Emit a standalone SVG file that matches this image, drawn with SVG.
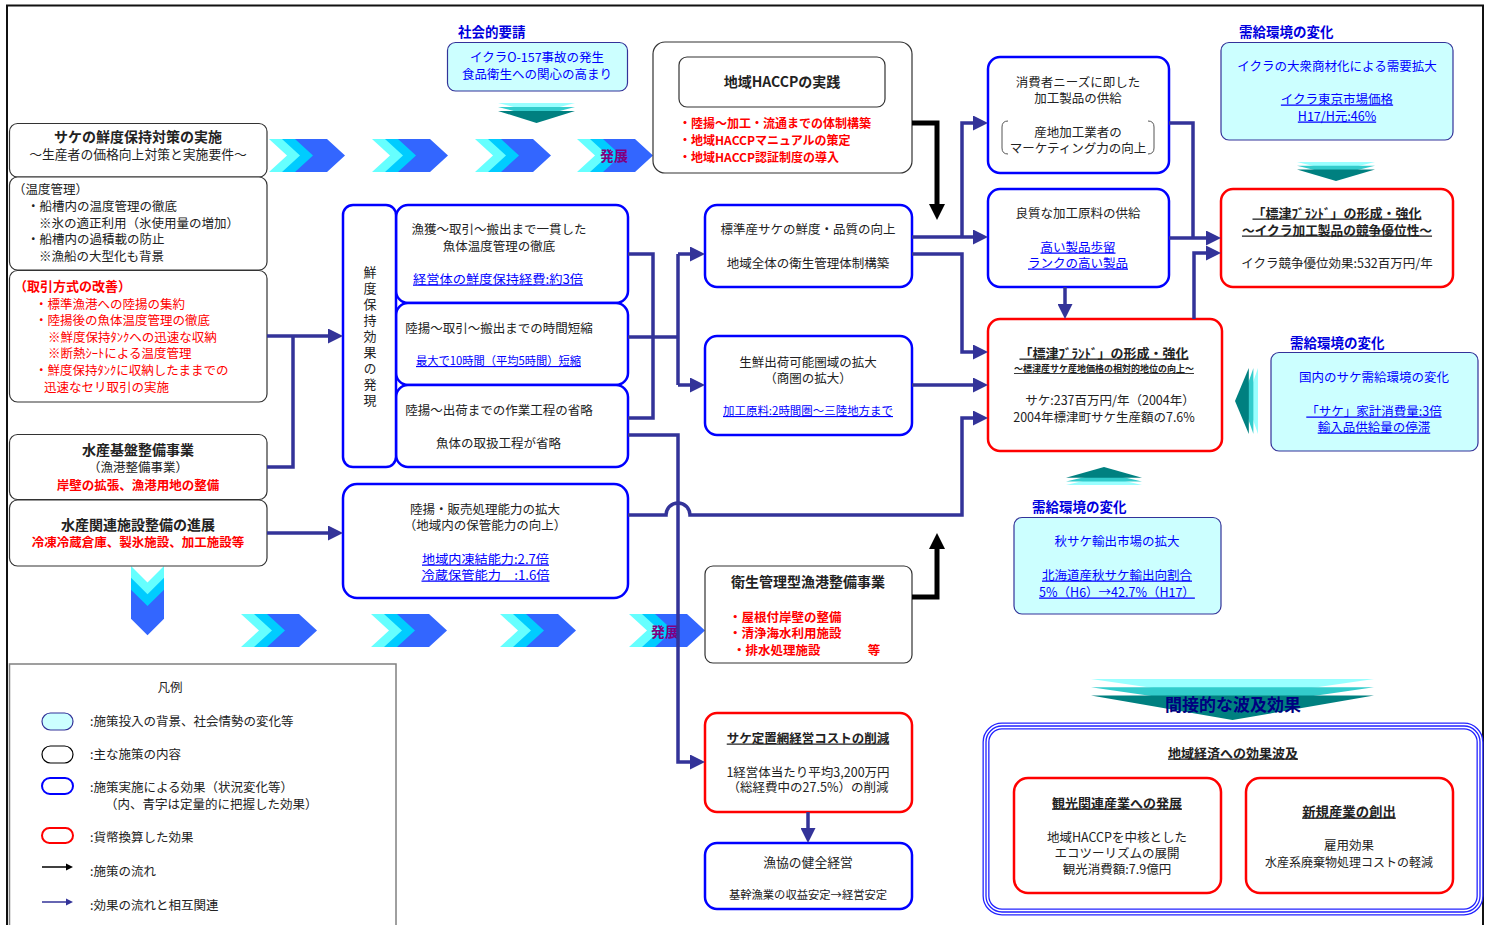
<svg xmlns="http://www.w3.org/2000/svg" width="1488" height="925" viewBox="0 0 1488 925">
<style>
text { font-family: "Noto Sans CJK JP", "Noto Sans", sans-serif; font-size: 12.5px; fill: #222; }
.c { text-anchor: middle; }
.b { font-weight: bold; }
.r { fill: #ff0000; }
.bl { fill: #0000ff; }
.u { text-decoration: underline; }
.pol { fill: #fff; stroke: #333; stroke-width: 1.2; }
.eff { fill: #fff; stroke: #0000ff; stroke-width: 2.5; }
.mon { fill: #fff; stroke: #ff0000; stroke-width: 2.5; }
.bg { fill: #ccffff; stroke: #333399; stroke-width: 1.2; }
.cn { fill: none; stroke: #333399; stroke-width: 3.5; }
.ck { fill: none; stroke: #000; stroke-width: 5; }
.lab { fill: #0000dd; font-weight: bold; font-size: 13.5px; }
.hat { fill: #800080; font-weight: bold; font-size: 14px; text-anchor: middle; }
</style>
<defs>
  <marker id="ab" markerUnits="userSpaceOnUse" markerWidth="15" markerHeight="15" viewBox="0 0 15 15" refX="3" refY="7.5" orient="auto"><path d="M0,0 L15,7.5 L0,15 z" fill="#333399"/></marker>
  <marker id="ak" markerUnits="userSpaceOnUse" markerWidth="16" markerHeight="16" viewBox="0 0 16 16" refX="4" refY="8" orient="auto"><path d="M0,0 L16,8 L0,16 z" fill="#000"/></marker>
  <g id="chev">
    <polygon fill="#66ffff" points="0,0 20,0 38,16.5 20,33 0,33 18,16.5"/>
    <polygon fill="#00ccff" points="13,0 33,0 51,16.5 33,33 13,33 31,16.5"/>
    <polygon fill="#3366ff" points="26,0 58,0 76,16.5 58,33 26,33 44,16.5"/>
  </g>
  <g id="tdown">
    <polygon fill="#99ffff" points="0,0 77,0 38.5,10"/>
    <polygon fill="#33cccc" points="0,4 77,4 38.5,14"/>
    <polygon fill="#008080" points="0,8 77,8 38.5,20"/>
  </g>
</defs>
<rect x="0" y="0" width="1488" height="925" fill="#fff"/>
<path d="M7,926 V5.5 H1483 V926" fill="none" stroke="#111" stroke-width="2"/>

<!-- chevrons -->
<g id="chevrons">
  <use href="#chev" x="269" y="139"/>
  <use href="#chev" x="372" y="139"/>
  <use href="#chev" x="475" y="139"/>
  <use href="#chev" x="577" y="139"/>
  <text class="hat" x="614" y="161">発展</text>
  <use href="#chev" x="241" y="614"/>
  <use href="#chev" x="371" y="614"/>
  <use href="#chev" x="500" y="614"/>
  <use href="#chev" x="629" y="614"/>
  <text class="hat" x="665" y="637">発展</text>
  <use href="#chev" transform="translate(164,566) rotate(90) scale(0.91,1)"/>
</g>

<!-- teal arrows -->
<g id="teal-arrows">
  <use href="#tdown" transform="translate(498,103)"/>
  <use href="#tdown" transform="translate(1297,162) scale(1.013,0.95)"/>
  <use href="#tdown" transform="translate(1066,485) scale(0.987,-0.9)"/>
  <use href="#tdown" transform="matrix(0,0.857,-1.15,0,1258,368)"/>
  <use href="#tdown" transform="translate(1091,679) scale(3.675,2.05)"/>
</g>

<g id="n-taisaku">
  <rect class="pol" x="9.5" y="123.5" width="257.5" height="53.5" rx="8"/>
  <text class="c b" x="138" y="142" style="font-size:14px">サケの鮮度保持対策の実施</text>
  <text class="c" x="138" y="158.5" style="font-size:12.8px">～生産者の価格向上対策と実施要件～</text>
</g>
<g id="n-ondo">
  <rect class="pol" x="9.5" y="177" width="257.5" height="93" rx="8"/>
  <text x="13" y="194">（温度管理）</text>
  <text x="27" y="211">・船槽内の温度管理の徹底</text>
  <text x="39" y="228">※氷の適正利用（氷使用量の増加）</text>
  <text x="27" y="244">・船槽内の過積載の防止</text>
  <text x="39" y="261">※漁船の大型化も背景</text>
</g>
<g id="n-torihiki">
  <rect class="pol" x="9.5" y="270.5" width="257.5" height="131.5" rx="8"/>
  <text class="r b" x="14" y="290.5" style="font-size:13px">（取引方式の改善）</text>
  <text class="r" x="35" y="308.5">・標準漁港への陸揚の集約</text>
  <text class="r" x="35" y="325">・陸揚後の魚体温度管理の徹底</text>
  <text class="r" x="48" y="341.5">※鮮度保持ﾀﾝｸへの迅速な収納</text>
  <text class="r" x="48" y="358">※断熱ｼｰﾄによる温度管理</text>
  <text class="r" x="35" y="375">・鮮度保持ﾀﾝｸに収納したままでの</text>
  <text class="r" x="44" y="391.5">迅速なセリ取引の実施</text>
</g>
<g id="n-kiban">
  <rect class="pol" x="9.5" y="434.5" width="257.5" height="65" rx="8"/>
  <text class="c b" x="138" y="455" style="font-size:14px">水産基盤整備事業</text>
  <text class="c" x="138" y="471.5">（漁港整備事業）</text>
  <text class="c b r" x="138" y="489.5">岸壁の拡張、漁港用地の整備</text>
</g>
<g id="n-kanren">
  <rect class="pol" x="9.5" y="500" width="257.5" height="66" rx="8"/>
  <text class="c b" x="138" y="530" style="font-size:14px">水産関連施設整備の進展</text>
  <text class="c b r" x="138" y="546.5">冷凍冷蔵倉庫、製氷施設、加工施設等</text>
</g>

<g id="n-shakai">
  <text class="lab" x="458" y="37">社会的要請</text>
  <rect class="bg" x="447.5" y="42.5" width="180" height="48.5" rx="8"/>
  <text class="c bl" x="537" y="61.5">イクラO-157事故の発生</text>
  <text class="c bl" x="537" y="78.5">食品衛生への関心の高まり</text>
</g>

<g id="n-haccp">
  <rect class="pol" x="653" y="42" width="259" height="131" rx="12"/>
  <rect class="pol" x="679" y="57" width="206" height="50" rx="8"/>
  <text class="c b" x="782" y="87" style="font-size:14px">地域HACCPの実践</text>
  <text class="r b" x="679" y="127.5" style="font-size:12px">・陸揚～加工・流通までの体制構築</text>
  <text class="r b" x="679" y="144.5" style="font-size:12px">・地域HACCPマニュアルの策定</text>
  <text class="r b" x="679" y="161.5" style="font-size:12px">・地域HACCP認証制度の導入</text>
</g>

<g id="n-sendo">
  <rect class="eff" x="396" y="205" width="232" height="98" rx="12"/>
  <rect class="eff" x="396" y="303" width="232" height="82" rx="12"/>
  <rect class="eff" x="396" y="385" width="232" height="82" rx="12"/>
  <rect class="eff" x="343" y="205" width="53" height="262" rx="10"/>
  <text x="370" y="266" style="font-size:13px;writing-mode:vertical-rl;letter-spacing:3px">鮮度保持効果の発現</text>
  <text class="c" x="499" y="233.5">漁獲～取引～搬出まで一貫した</text>
  <text class="c" x="499" y="251">魚体温度管理の徹底</text>
  <text class="c bl u" x="498" y="283.5" textLength="170" lengthAdjust="spacingAndGlyphs">経営体の鮮度保持経費:約3倍</text>
  <text class="c" x="499" y="332.5">陸揚～取引～搬出までの時間短縮</text>
  <text class="c bl u" x="498.5" y="365" style="font-size:11.5px" textLength="165" lengthAdjust="spacingAndGlyphs">最大で10時間（平均5時間）短縮</text>
  <text class="c" x="499" y="415">陸揚～出荷までの作業工程の省略</text>
  <text class="c" x="498.5" y="447.5">魚体の取扱工程が省略</text>
</g>

<g id="n-rikuage">
  <rect class="eff" x="343" y="484" width="285" height="114" rx="14"/>
  <text class="c" x="485" y="513.5">陸揚・販売処理能力の拡大</text>
  <text class="c" x="485" y="529.5">（地域内の保管能力の向上）</text>
  <text class="c bl u" x="485.5" y="563.5" textLength="127" lengthAdjust="spacingAndGlyphs">地域内凍結能力:2.7倍</text>
  <text class="c bl u" x="485.5" y="579.5" textLength="128" lengthAdjust="spacingAndGlyphs">冷蔵保管能力　:1.6倍</text>
</g>

<g id="n-hyojun">
  <rect class="eff" x="705" y="205" width="207" height="82" rx="12"/>
  <text class="c" x="808" y="233.5">標準産サケの鮮度・品質の向上</text>
  <text class="c" x="808" y="267.5">地域全体の衛生管理体制構築</text>
</g>
<g id="n-sensen">
  <rect class="eff" x="705" y="336" width="207" height="99" rx="12"/>
  <text class="c" x="808" y="366.5">生鮮出荷可能圏域の拡大</text>
  <text class="c" x="808" y="382.5">（商圏の拡大）</text>
  <text class="c bl u" x="808" y="415" style="font-size:11.3px" textLength="170" lengthAdjust="spacingAndGlyphs">加工原料:2時間圏～三陸地方まで</text>
</g>

<g id="n-eisei">
  <rect class="pol" x="705" y="566" width="207" height="97" rx="8"/>
  <text class="c b" x="808" y="586.5" style="font-size:14px">衛生管理型漁港整備事業</text>
  <text class="r b" x="729" y="621.5">・屋根付岸壁の整備</text>
  <text class="r b" x="729" y="637.5">・清浄海水利用施設</text>
  <text class="r b" x="733" y="654.5">・排水処理施設</text>
  <text class="r b c" x="874" y="654.5">等</text>
</g>

<g id="n-teichi">
  <rect class="mon" x="705" y="713" width="207" height="99" rx="12"/>
  <text class="c b u" x="808" y="742.5">サケ定置網経営コストの削減</text>
  <text class="c" x="808" y="776.5">1経営体当たり平均3,200万円</text>
  <text class="c" x="808" y="791.5">（総経費中の27.5%）の削減</text>
</g>
<g id="n-gyokyo">
  <rect class="eff" x="705" y="843" width="207" height="66" rx="12"/>
  <text class="c" x="808" y="866.5" style="font-size:12.8px">漁協の健全経営</text>
  <text class="c" x="808" y="899" style="font-size:11.3px">基幹漁業の収益安定→経営安定</text>
</g>

<g id="n-shohisha">
  <rect class="eff" x="988" y="57" width="181" height="116" rx="12"/>
  <text class="c" x="1078" y="86.5">消費者ニーズに即した</text>
  <text class="c" x="1078" y="102.5">加工製品の供給</text>
  <text class="c" x="1078" y="136.5">産地加工業者の</text>
  <text class="c" x="1078" y="152.5">マーケティング力の向上</text>
  <path d="M1008,121 Q1002,121 1002,127 V148 Q1002,154 1008,154 M1148,121 Q1154,121 1154,127 V148 Q1154,154 1148,154" fill="none" stroke="#555" stroke-width="1"/>
</g>
<g id="n-ryoshitsu">
  <rect class="eff" x="988" y="189" width="181" height="98" rx="12"/>
  <text class="c" x="1078" y="217.5">良質な加工原料の供給</text>
  <text class="c bl u" x="1078" y="251.5">高い製品歩留</text>
  <text class="c bl u" x="1078" y="267.5">ランクの高い製品</text>
</g>

<g id="n-ikura-demand">
  <text class="lab" x="1239" y="37">需給環境の変化</text>
  <rect class="bg" x="1221" y="42.5" width="232" height="97.5" rx="8"/>
  <text class="c bl" x="1337" y="70.5">イクラの大衆商材化による需要拡大</text>
  <text class="c bl u" x="1337" y="103.5">イクラ東京市場価格</text>
  <text class="c bl u" x="1337" y="120.5">H17/H元:46%</text>
</g>
<g id="n-ikura-brand">
  <rect class="mon" x="1221" y="189" width="232" height="98" rx="12"/>
  <text class="c b u" x="1337" y="217.5" style="font-size:13px">「標津ﾌﾞﾗﾝﾄﾞ」の形成・強化</text>
  <text class="c b u" x="1337" y="234.5" style="font-size:12.7px">～イクラ加工製品の競争優位性～</text>
  <text class="c" x="1337" y="267.5">イクラ競争優位効果:532百万円/年</text>
</g>

<g id="n-sake-brand">
  <rect class="mon" x="988" y="319" width="234" height="132" rx="12"/>
  <text class="c b u" x="1104" y="357.5" style="font-size:13px">「標津ﾌﾞﾗﾝﾄﾞ」の形成・強化</text>
  <text class="c b u" x="1104" y="372" style="font-size:9px">～標津産サケ産地価格の相対的地位の向上～</text>
  <text class="c" x="1110" y="404.5">サケ:237百万円/年（2004年）</text>
  <text class="c" x="1104" y="421.5">2004年標津町サケ生産額の7.6%</text>
</g>

<g id="n-domestic">
  <text class="lab" x="1290" y="348">需給環境の変化</text>
  <rect class="bg" x="1271" y="352.5" width="207" height="98.5" rx="8"/>
  <text class="c bl" x="1374" y="381.5">国内のサケ需給環境の変化</text>
  <text class="c bl u" x="1374" y="415.5">「サケ」家計消費量:3倍</text>
  <text class="c bl u" x="1374" y="431.5">輸入品供給量の停滞</text>
</g>

<g id="n-export">
  <text class="lab" x="1032" y="512">需給環境の変化</text>
  <rect class="bg" x="1014" y="517.5" width="207" height="96.5" rx="8"/>
  <text class="c bl" x="1117" y="545.5">秋サケ輸出市場の拡大</text>
  <text class="c bl u" x="1117" y="579.5">北海道産秋サケ輸出向割合</text>
  <text class="c bl u" x="1117" y="596.5">5%（H6）→42.7%（H17）</text>
</g>

<g id="n-indirect">
  <text class="c b" x="1233" y="711" style="font-size:17px;fill:#000080">間接的な波及効果</text>
</g>
<g id="n-region">
  <rect x="986" y="726" width="494" height="186" rx="16" fill="#fff" stroke="#2222ff" stroke-width="7"/>
  <rect x="986" y="726" width="494" height="186" rx="16" fill="none" stroke="#fff" stroke-width="4.4"/>
  <rect x="986" y="726" width="494" height="186" rx="16" fill="none" stroke="#2222ff" stroke-width="1.3"/>
  <text class="c b u" x="1233" y="757.5" style="font-size:13px">地域経済への効果波及</text>
</g>
<g id="n-kanko">
  <rect class="mon" x="1014" y="778" width="207" height="115" rx="14"/>
  <text class="c b u" x="1117" y="807.5" style="font-size:13px">観光関連産業への発展</text>
  <text class="c" x="1117" y="841.5">地域HACCPを中核とした</text>
  <text class="c" x="1117" y="857.5">エコツーリズムの展開</text>
  <text class="c" x="1117" y="873.5">観光消費額:7.9億円</text>
</g>
<g id="n-shinki">
  <rect class="mon" x="1246" y="778" width="207" height="115" rx="14"/>
  <text class="c b u" x="1349" y="816.5" style="font-size:13.4px">新規産業の創出</text>
  <text class="c" x="1349" y="849.5">雇用効果</text>
  <text class="c" x="1349" y="866.5" style="font-size:12px">水産系廃棄物処理コストの軽減</text>
</g>

<g id="legend">
  <rect x="9.5" y="664" width="386.5" height="290" fill="#fff" stroke="#808080" stroke-width="1.5"/>
  <text class="c" x="170" y="691.5">凡例</text>
  <rect class="bg" x="42" y="713" width="31" height="17" rx="8.5"/>
  <text x="90" y="725.5">:施策投入の背景、社会情勢の変化等</text>
  <rect x="42" y="746" width="31" height="17" rx="8.5" fill="#fff" stroke="#000" stroke-width="1.2"/>
  <text x="90" y="758.5">:主な施策の内容</text>
  <rect x="42" y="778" width="31" height="16" rx="8" fill="#fff" stroke="#0000ff" stroke-width="2"/>
  <text x="90" y="791.5">:施策実施による効果（状況変化等）</text>
  <text x="105" y="808.5">（内、青字は定量的に把握した効果）</text>
  <rect x="42" y="828" width="31" height="15" rx="7.5" fill="#fff" stroke="#ff0000" stroke-width="2"/>
  <text x="90" y="841.5">:貨幣換算した効果</text>
  <line x1="42" y1="867" x2="67" y2="867" stroke="#000" stroke-width="1.5"/>
  <polygon points="66,863.5 73,867 66,870.5" fill="#000"/>
  <text x="90" y="875.5">:施策の流れ</text>
  <line x1="42" y1="902" x2="67" y2="902" stroke="#333399" stroke-width="1.5"/>
  <polygon points="66,898.5 73,902 66,905.5" fill="#333399"/>
  <text x="90" y="909.5">:効果の流れと相互関連</text>
</g>

<g id="connectors">
  <path class="cn" d="M267,336 H331" marker-end="url(#ab)"/>
  <path class="cn" d="M267,467 H293 V336"/>
  <path class="cn" d="M267,533 H331" marker-end="url(#ab)"/>
  <path class="cn" d="M628,254 H653 V418 H628"/>
  <path class="cn" d="M628,337 H678"/>
  <path class="cn" d="M678,254 V385"/>
  <path class="cn" d="M678,254 H693" marker-end="url(#ab)"/>
  <path class="cn" d="M678,385 H693" marker-end="url(#ab)"/>
  <path class="cn" d="M628,435 H678 V762 H693" marker-end="url(#ab)"/>
  <path class="cn" d="M628,515 H666 A12,12 0 0 1 690,515 H962 V418 H976" marker-end="url(#ab)"/>
  <path class="cn" d="M912,237 H976" marker-end="url(#ab)"/>
  <path class="cn" d="M962,237 V123 H976" marker-end="url(#ab)"/>
  <path class="cn" d="M912,254 H962 V352 H976" marker-end="url(#ab)"/>
  <path class="cn" d="M912,385 H976" marker-end="url(#ab)"/>
  <path class="cn" d="M1065,287 V307" marker-end="url(#ab)"/>
  <path class="cn" d="M1169,123 H1193 V238"/>
  <path class="cn" d="M1169,238 H1209" marker-end="url(#ab)"/>
  <path class="cn" d="M1194,319 V253 H1209" marker-end="url(#ab)"/>
  <path class="cn" d="M808,812 V831" marker-end="url(#ab)"/>
  <path class="ck" d="M912,123 H937 V208" marker-end="url(#ak)"/>
  <path class="ck" d="M912,597 H937 V545" marker-end="url(#ak)"/>
</g>
</svg>
